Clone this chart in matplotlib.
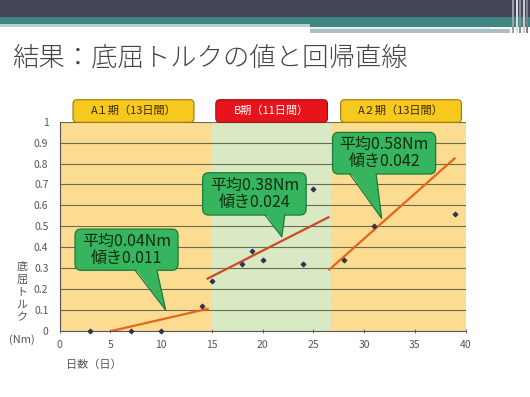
import matplotlib
matplotlib.use("Agg")
import matplotlib.pyplot as plt
from matplotlib.patches import Rectangle, FancyBboxPatch, Polygon

plt.rcParams['font.family'] = ['Noto Sans CJK JP', 'DejaVu Sans']

# ---- data ----
days = [3, 7, 10, 14, 15, 18, 19, 20, 24, 25, 28, 31, 39]
torque = [0.0, 0.0, 0.0, 0.12, 0.24, 0.32, 0.38, 0.34, 0.32, 0.68, 0.34, 0.50, 0.56]

phase_names = ["A１期（13日間）", "B期（11日間）", "A２期（13日間）"]
phase_bounds = [(0, 15), (15, 26.75), (26.75, 40)]

# regression lines: x range and y values at its ends
reg_x = [(5.1, 14.7), (14.5, 26.6), (26.5, 39.0)]
reg_y = [(0.0, 0.107), (0.248, 0.546), (0.29, 0.828)]

callout_texts = ["平均0.04Nm\n傾き0.011", "平均0.38Nm\n傾き0.024", "平均0.58Nm\n傾き0.042"]

xticks = [0, 5, 10, 15, 20, 25, 30, 35, 40]
yticks = [0, 0.1, 0.2, 0.3, 0.4, 0.5, 0.6, 0.7, 0.8, 0.9, 1]
ytick_labels = ["0", "0.1", "0.2", "0.3", "0.4", "0.5", "0.6", "0.7", "0.8", "0.9", "1"]

W, H = 530, 397
fig = plt.figure(figsize=(W / 100, H / 100), dpi=100)
fig.patch.set_facecolor('white')

# ---- slide header decoration ----
def frect(x0, y0, x1, y1, color, z=0):
    fig.patches.append(Rectangle((x0 / W, 1 - y1 / H), (x1 - x0) / W, (y1 - y0) / H,
                                 transform=fig.transFigure, color=color, zorder=z, lw=0))

frect(0, 0, 530, 17, '#454559')
frect(0, 17, 530, 24, '#3f8581')
frect(0, 24, 310, 27, '#b8cfd0')
frect(310, 24, 530, 27, '#3f8581')
frect(310, 27, 490, 29, '#e8eef0')
frect(310, 29, 510, 33, '#a9bfc3')
for xs, c in [(512, '#9aa0aa'), (516, '#d8dde2'), (519, '#8a909a'), (523, '#c8ccd2'), (526, '#7a808a')]:
    frect(xs, 0, xs + 2, 33, c, 1)

fig.text(12 / W, 1 - 57 / H, "結果：底屈トルクの値と回帰直線", fontsize=19,
         color='#454545', va='center', ha='left', fontweight='light')

# ---- axes ----
ax_left, ax_right = 59.5, 465.5
ax_top, ax_bot = 121.7, 331
ax = fig.add_axes([ax_left / W, 1 - ax_bot / H, (ax_right - ax_left) / W, (ax_bot - ax_top) / H])
ax.set_xlim(0, 40)
ax.set_ylim(0, 1)

bg_colors = ['#fbdc90', '#d9e9c3', '#fbdc90']
for (x0, x1), c in zip(phase_bounds, bg_colors):
    ax.axvspan(x0, x1, color=c, zorder=0, lw=0)

for y in yticks[1:]:
    ax.axhline(y, color='#6e6a4e', lw=0.8, zorder=1)

ax.set_xticks(xticks)
ax.set_yticks(yticks)
ax.set_yticklabels(ytick_labels)
ax.tick_params(axis='both', labelsize=7.5, colors='#555555', length=3, width=0.6)
ax.tick_params(axis='x', direction='inout', pad=5)
ax.tick_params(axis='y', length=0, pad=8)
for s in ['top', 'right']:
    ax.spines[s].set_visible(False)
ax.spines['left'].set_color('#555555')
ax.spines['bottom'].set_color('#555555')
ax.spines['left'].set_linewidth(0.8)
ax.spines['bottom'].set_linewidth(0.8)

# regression lines
reg_colors = ['#e8641c', '#cc4a26', '#e8641c']
for (x0, x1), (y0, y1), c in zip(reg_x, reg_y, reg_colors):
    ax.plot([x0, x1], [y0, y1], color=c, lw=1.6, zorder=3, solid_capstyle='butt')

# data points
ax.scatter(days, torque, marker='D', s=5, color='#2f3350', zorder=4, clip_on=False)

# ---- phase header boxes ----
hdr_x = [(1.33, 13.25), (15.4, 26.4), (27.7, 39.6)]
hdr_fc = ['#f7c81e', '#e8141c', '#f7c81e']
hdr_ec = ['#9a7a10', '#9a1010', '#9a7a10']
hdr_tc = ['#3a2a00', 'white', '#3a2a00']
for (x0, x1), name, fc, ec, tc in zip(hdr_x, phase_names, hdr_fc, hdr_ec, hdr_tc):
    p = FancyBboxPatch((x0, 0.997), x1 - x0, 0.108, boxstyle="round,pad=0,rounding_size=0.4",
                       mutation_aspect=0.05, fc=fc, ec=ec, lw=0.8, clip_on=False, zorder=5)
    ax.add_patch(p)
    ax.text((x0 + x1) / 2, 1.051, name, ha='center', va='center', fontsize=8,
            color=tc, clip_on=False, zorder=6)

# ---- callouts ----
cbox = [((1.53, 0.29), (11.68, 0.487)), ((14.1, 0.554), (24.3, 0.756)), ((26.9, 0.75), (37.06, 0.949))]
cbase = [(7.45, 9.6), (20.25, 22.2), (28.6, 31.2)]
ctip = [(10.46, 0.10), (21.9, 0.45), (31.74, 0.538)]
for ((x0, y0), (x1, y1)), (b0, b1), (tx, ty), txt in zip(cbox, cbase, ctip, callout_texts):
    box = FancyBboxPatch((x0, y0), x1 - x0, y1 - y0, boxstyle="round,pad=0,rounding_size=0.6",
                         mutation_aspect=0.05, fc='#36b45e', ec='#1d7a3c', lw=0.9, zorder=7)
    ax.add_patch(box)
    tri = Polygon([(b0, y0 + 0.01), (b1, y0 + 0.01), (tx, ty)], closed=True,
                  fc='#36b45e', ec='none', zorder=8)
    ax.add_patch(tri)
    ax.plot([b0, tx, b1], [y0, ty, y0], color='#1d7a3c', lw=0.9, zorder=8)
    ax.text((x0 + x1) / 2, (y0 + y1) / 2, txt, ha='center', va='center', fontsize=11.5,
            color='#102a10', linespacing=1.0, zorder=9)

# ---- axis labels ----
ylab_chars = ["底", "屈", "ト", "ル", "ク"]
for i, ch in enumerate(ylab_chars):
    fig.text(22 / W, 1 - (267 + i * 12.5) / H, ch, fontsize=8, color='#555555',
             ha='center', va='center')
fig.text(22 / W, 1 - 340 / H, "(Nm)", fontsize=8, color='#555555', ha='center', va='center')
fig.text(94 / W, 1 - 365 / H, "日数（日）", fontsize=8, color='#555555', ha='center', va='center')

fig.savefig("out.png", dpi=100)
